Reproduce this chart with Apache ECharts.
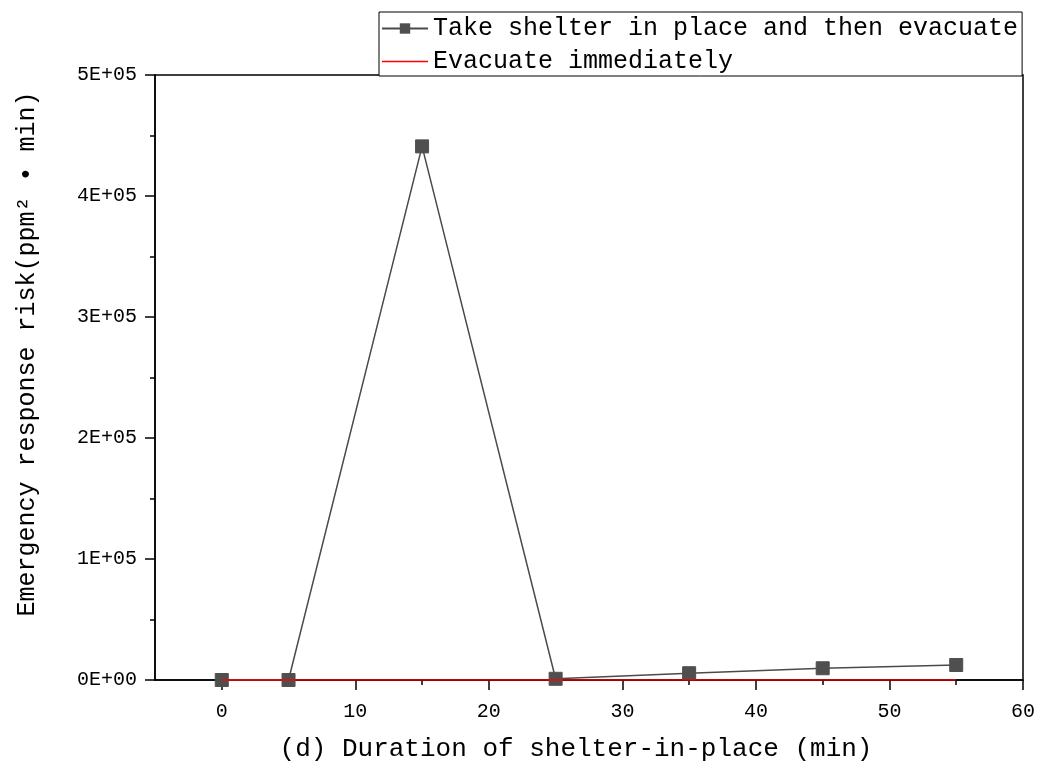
<!DOCTYPE html>
<html>
<head>
<meta charset="utf-8">
<script src="https://cdn.jsdelivr.net/npm/echarts@6/dist/echarts.min.js"></script>
<style>html,body{margin:0;padding:0;background:#fff}#c{width:1040px;height:767px}</style>
</head>
<body>
<div id="c"></div>
<script>
var durations = [0, 5, 15, 25, 35, 45, 55];
var shelterThenEvacuate = [0, 0, 441000, 1000, 5600, 9700, 12400];
var evacuateImmediately = [0, 0, 0, 0, 0, 0, 0];
var xMajorTicks = [0, 10, 20, 30, 40, 50, 60];
var xMinorTicks = [5, 15, 25, 35, 45, 55];
var seriesNames = ['Take shelter in place and then evacuate', 'Evacuate immediately'];
var xTitle = '(d) Duration of shelter-in-place (min)';
var yTitle = 'Emergency response risk(ppm\u00B2 \u2022 min)';

var FONT = '"Liberation Mono", "DejaVu Sans Mono", monospace';

function pairs(xs, ys) { return xs.map(function (x, i) { return [x, ys[i]]; }); }
function fmtY(v) {
  if (v === 0) return '0E+00';
  return Math.round(v / 1e5) + 'E+05';
}

var chart = echarts.init(document.getElementById('c'));
chart.setOption({
  animation: false,
  backgroundColor: '#fff',
  grid: { left: 155, right: 17, top: 75, bottom: 87, show: true, borderColor: '#000', borderWidth: 1.5, backgroundColor: 'transparent' },
  legend: {
    orient: 'vertical', left: 379, top: 12,
    itemWidth: 46, itemHeight: 13, itemGap: 8,
    padding: [4, 4, 2, 2],
    borderColor: '#000', borderWidth: 1, backgroundColor: '#fff',
    textStyle: { fontFamily: FONT, fontSize: 25, color: '#000', padding: [0, 0, 0, 0] },
    data: [
      { name: seriesNames[0] },
      { name: seriesNames[1], itemStyle: { opacity: 0 }, lineStyle: { opacity: 1, color: '#ff0000', width: 1.5 } }
    ]
  },
  xAxis: [{
    type: 'value', min: -5, max: 60,
    name: xTitle, nameLocation: 'middle', nameGap: 56,
    nameTextStyle: { fontFamily: FONT, fontSize: 26, color: '#000', padding: [0, 26, 0, 0] },
    axisLine: { show: true, onZero: false, lineStyle: { color: '#000', width: 1.5 } },
    axisTick: { show: true, customValues: xMajorTicks, length: 10, lineStyle: { color: '#000', width: 1.5 } },
    axisLabel: { customValues: xMajorTicks, fontFamily: FONT, fontSize: 20, color: '#000', margin: 22 },
    splitLine: { show: false }
  }, {
    type: 'value', min: -5, max: 60, position: 'bottom',
    axisLine: { show: false, onZero: false },
    axisTick: { show: true, customValues: xMinorTicks, length: 5, lineStyle: { color: '#000', width: 1.5 } },
    axisLabel: { show: false },
    splitLine: { show: false }
  }],
  yAxis: {
    type: 'value', min: 0, max: 500000, interval: 100000,
    axisLine: { show: true, onZero: false, lineStyle: { color: '#000', width: 1.5 } },
    axisTick: { show: true, length: 10, lineStyle: { color: '#000', width: 1.5 } },
    minorTick: { show: true, splitNumber: 2, length: 5, lineStyle: { color: '#000', width: 1.5 } },
    axisLabel: { formatter: fmtY, fontFamily: FONT, fontSize: 20, color: '#000', margin: 18 },
    splitLine: { show: false }
  },
  graphic: [{
    type: 'text', x: 27, y: 354, rotation: Math.PI / 2,
    style: { text: yTitle, fontFamily: FONT, fontSize: 25, fill: '#000', align: 'center', verticalAlign: 'middle' }
  }],
  series: [{
    name: seriesNames[1], type: 'line', xAxisIndex: 0,
    data: pairs(durations, evacuateImmediately),
    symbol: 'none', lineStyle: { color: '#ff0000', width: 1.5 }, itemStyle: { color: '#ff0000' }, z: 3
  }, {
    name: seriesNames[0], type: 'line', xAxisIndex: 0,
    data: pairs(durations, shelterThenEvacuate),
    symbol: 'rect', symbolSize: 13, showAllSymbol: true,
    lineStyle: { color: '#4a4a4a', width: 1.5 },
    itemStyle: { color: '#4f4f4f', borderColor: '#4f4f4f' }, z: 2
  }]
});
</script>
</body>
</html>
